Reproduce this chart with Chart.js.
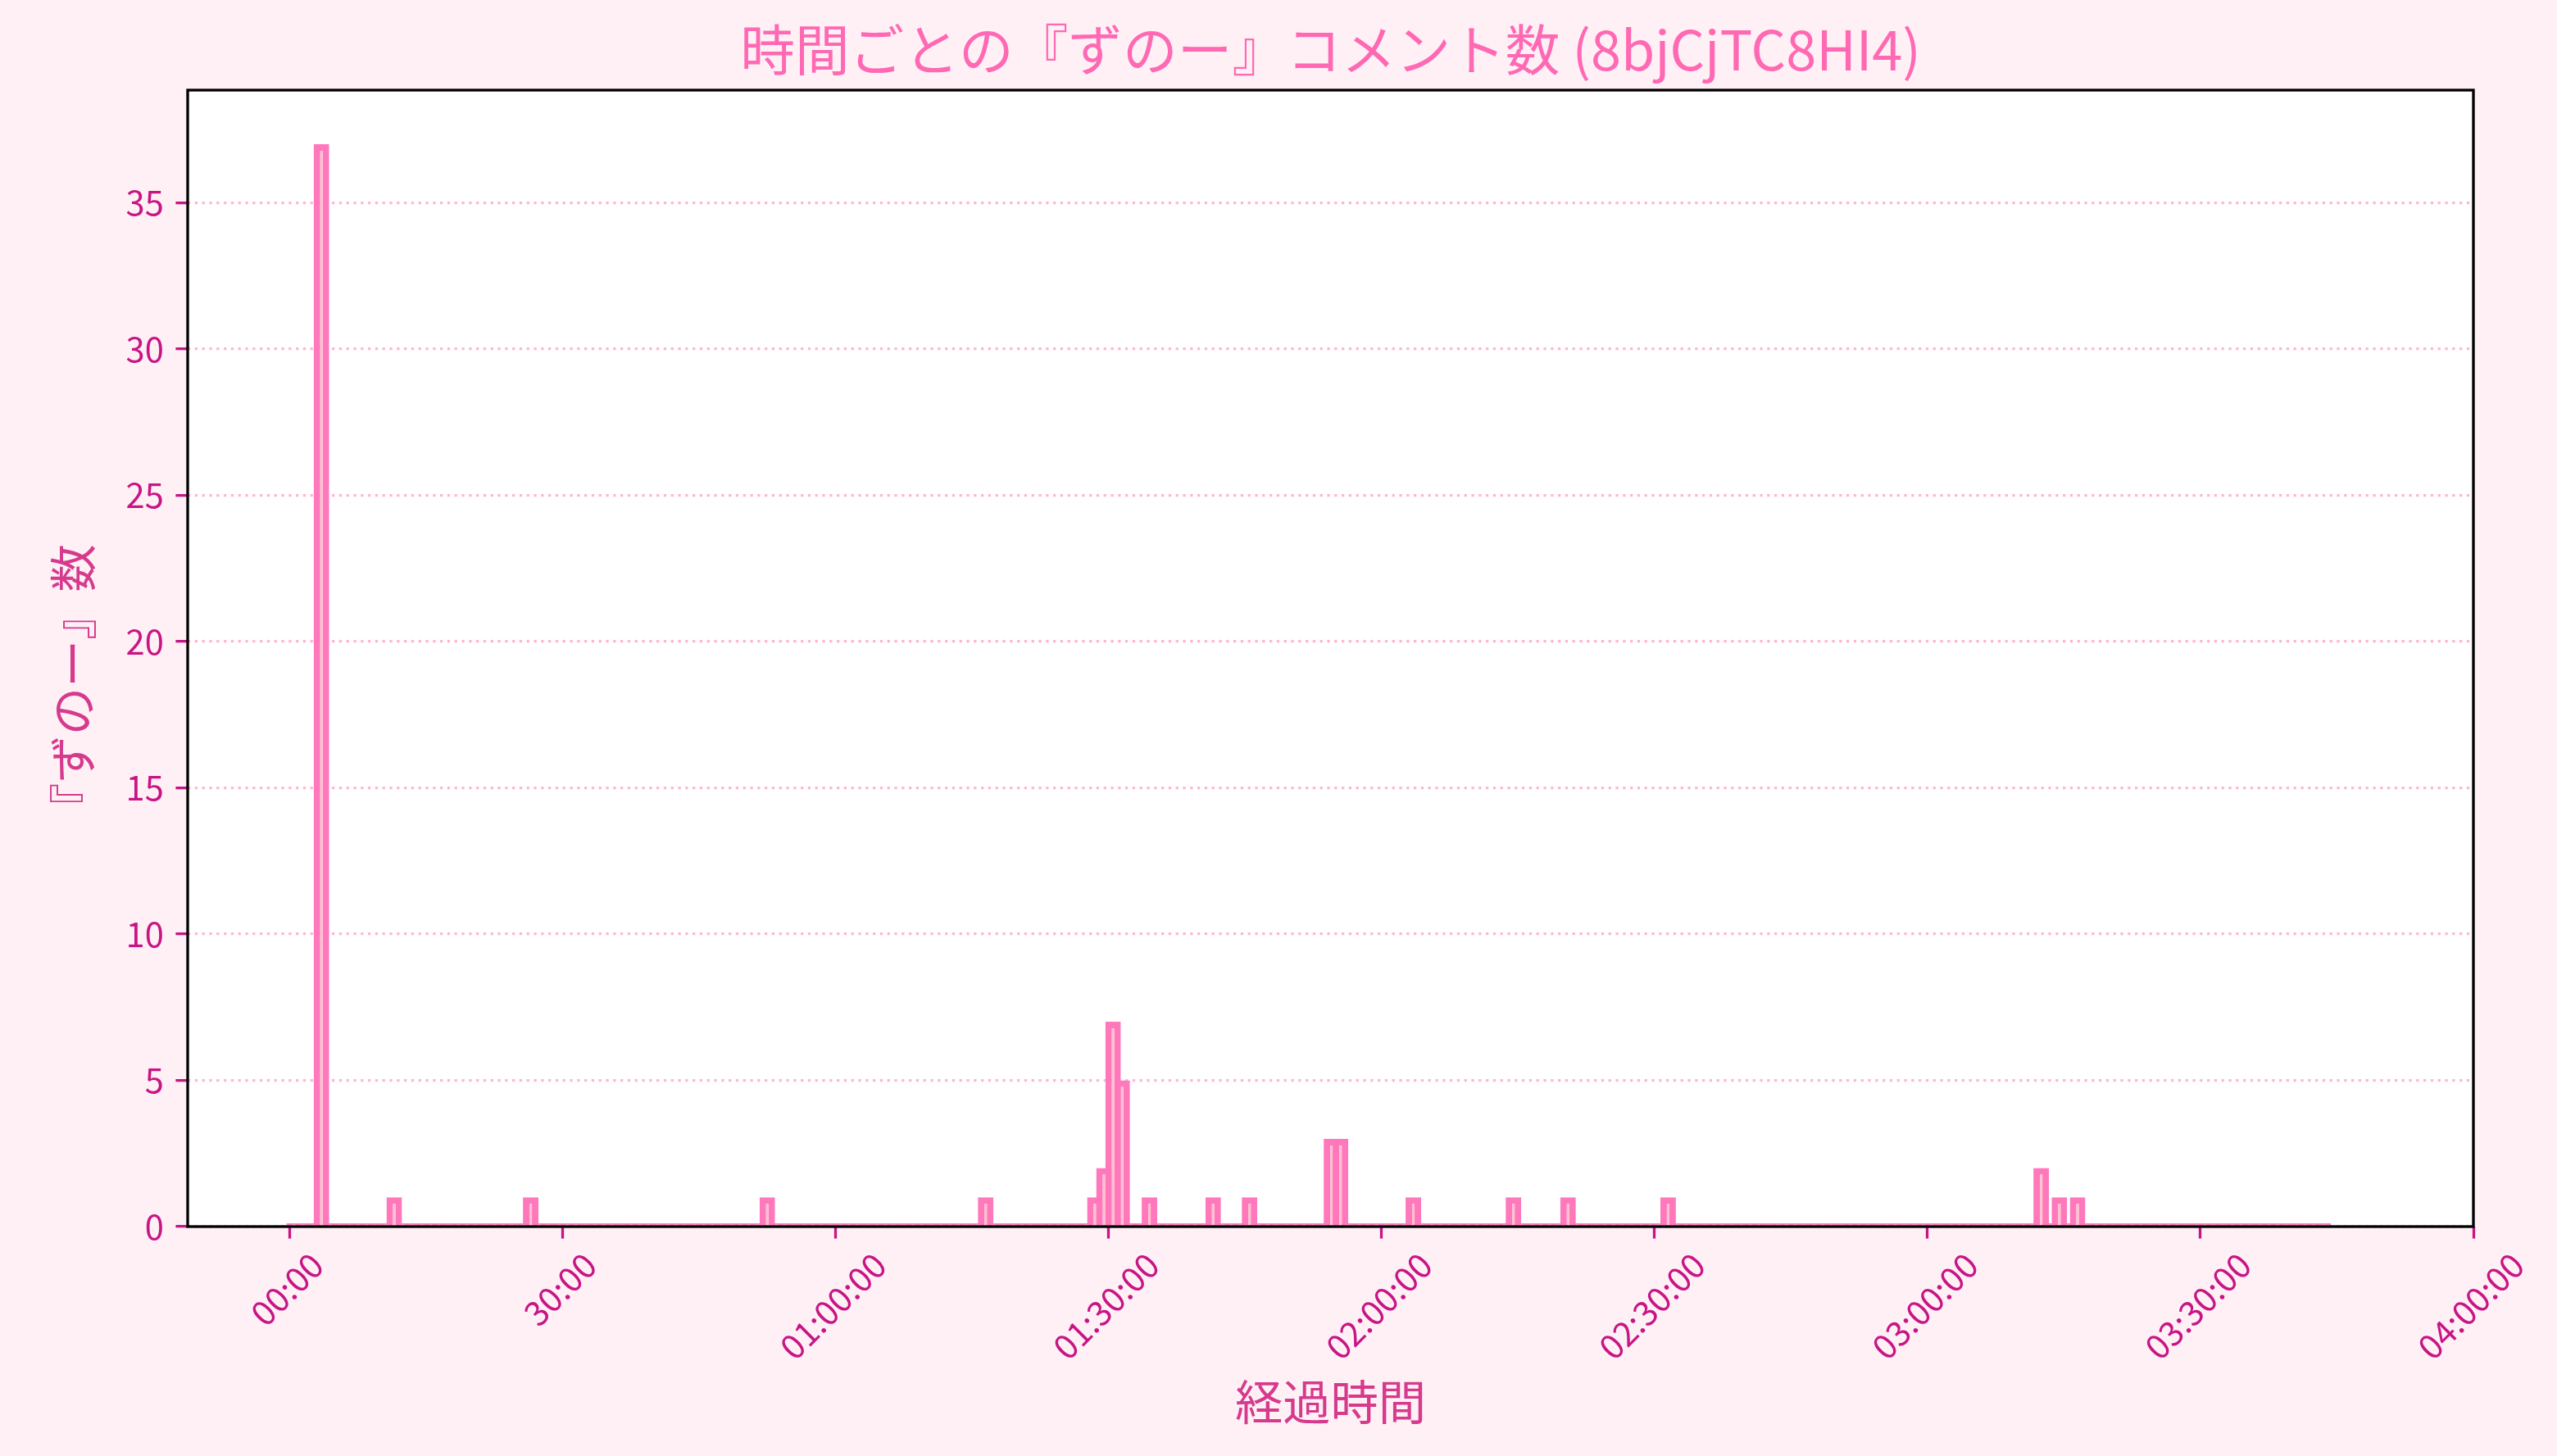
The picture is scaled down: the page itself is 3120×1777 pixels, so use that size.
<!DOCTYPE html>
<html>
<head>
<meta charset="utf-8">
<title>時間ごとの『ずのー』コメント数</title>
<script src="https://cdn.jsdelivr.net/npm/chart.js@4.4.1/dist/chart.umd.min.js"></script>
<style>
  html, body { margin: 0; padding: 0; background: #fff0f5; }
</style>
</head>
<body>
<canvas id="chart" width="3120" height="1777"></canvas>
<script>
// one-minute bins from 00:00 up to the end of the stream
var binCount = 224;
var binWidth = 1;
// minutes that had at least one comment, and how many
var commentMinutes = [3, 11, 26, 52, 76, 88, 89, 90, 91, 94, 101, 105, 114, 115, 123, 134, 140, 151, 192, 194, 196];
var commentCounts = [37, 1, 1, 1, 1, 1, 2, 7, 5, 1, 1, 1, 3, 3, 1, 1, 1, 1, 2, 1, 1];

var xTickMinutes = [0, 30, 60, 90, 120, 150, 180, 210, 240];
var xTickLabels = ["00:00", "30:00", "01:00:00", "01:30:00", "02:00:00", "02:30:00", "03:00:00", "03:30:00", "04:00:00"];
var yTicks = [0, 5, 10, 15, 20, 25, 30, 35];

var titleText = "時間ごとの『ずのー』コメント数 (8bjCjTC8HI4)";
var xLabelText = "経過時間";
var yLabelText = "『ずのー』数";

var FONT = '"Noto Sans CJK JP", "Noto Sans", sans-serif';
var EDGE = '#ff78bb';
var FILL = '#ffc0d0';

var counts = [];
for (var m = 0; m < binCount; m++) counts.push(0);
commentMinutes.forEach(function(minute, i) {
  counts[minute] = commentCounts[i];
});
var points = counts.map(function(c, i) {
  return { x: i * binWidth + binWidth / 2, y: c };
});

var decor = {
  id: 'decor',
  beforeDraw: function(chart) {
    var ctx = chart.ctx, a = chart.chartArea;
    ctx.save();
    ctx.fillStyle = '#fff0f5';
    ctx.fillRect(0, 0, chart.width, chart.height);
    ctx.fillStyle = '#ffffff';
    ctx.fillRect(a.left, a.top, a.right - a.left, a.bottom - a.top);
    ctx.restore();
  },
  afterDatasetsDraw: function(chart) {
    var ctx = chart.ctx, a = chart.chartArea;
    ctx.save();
    ctx.strokeStyle = '#000000';
    ctx.lineWidth = 3.33;
    ctx.strokeRect(a.left, a.top, a.right - a.left, a.bottom - a.top);
    ctx.restore();
  },
  afterDraw: function(chart) {
    var ctx = chart.ctx, a = chart.chartArea;
    var xs = chart.scales.x;
    var midX = (a.left + a.right) / 2;
    ctx.save();

    // title
    ctx.fillStyle = '#ff69b4';
    ctx.font = '66.7px ' + FONT;
    ctx.textAlign = 'center';
    ctx.textBaseline = 'alphabetic';
    ctx.fillText(titleText, midX, 86);

    // rotated x tick labels, centred under each tick like matplotlib
    var fs = 41.7;
    ctx.font = fs + 'px ' + FONT;
    ctx.fillStyle = '#c71585';
    var topY = a.bottom + 14.6 + 14.6;
    xTickMinutes.forEach(function(v, i) {
      var px = xs.getPixelForValue(v);
      var w = ctx.measureText(xTickLabels[i]).width;
      var side = (w + fs * 0.93) * Math.SQRT1_2;
      ctx.save();
      ctx.translate(px, topY + side / 2);
      ctx.rotate(-Math.PI / 4);
      ctx.textAlign = 'center';
      ctx.fillText(xTickLabels[i], 0, fs * 0.265);
      ctx.restore();
    });

    // axis labels
    ctx.fillStyle = '#d63a8c';
    ctx.font = '58.3px ' + FONT;
    ctx.textAlign = 'center';
    ctx.fillText(xLabelText, midX, 1733);

    ctx.save();
    ctx.translate(111, 839);
    ctx.rotate(-Math.PI / 2);
    ctx.fillText(yLabelText, 0, 0);
    ctx.restore();

    ctx.restore();
  }
};

new Chart(document.getElementById('chart'), {
  type: 'bar',
  data: {
    datasets: [{
      data: points,
      borderColor: EDGE,
      backgroundColor: function(c) {
        return c.raw && c.raw.y === 0 ? EDGE : FILL;
      },
      borderWidth: 8,
      borderSkipped: 'start',
      barThickness: 19,
      minBarLength: 4,
      inflateAmount: 0,
      grouped: false
    }]
  },
  options: {
    responsive: false,
    animation: false,
    devicePixelRatio: 1,
    layout: { padding: { top: 110, right: 102, left: 0, bottom: 0 } },
    plugins: {
      legend: { display: false },
      title: { display: false },
      tooltip: { enabled: false }
    },
    scales: {
      x: {
        type: 'linear',
        min: -11.2,
        max: 240,
        offset: false,
        afterBuildTicks: function(s) {
          s.ticks = xTickMinutes.map(function(v) { return { value: v }; });
        },
        afterFit: function(s) { s.height = 280; },
        ticks: { display: false },
        grid: {
          display: true,
          offset: false,
          drawOnChartArea: false,
          drawTicks: true,
          tickLength: 14.6,
          tickWidth: 3.3,
          tickColor: '#c71585'
        },
        border: { display: false }
      },
      y: {
        min: 0,
        max: 38.85,
        afterBuildTicks: function(s) {
          s.ticks = yTicks.map(function(v) { return { value: v }; });
        },
        afterFit: function(s) { s.width = 229; },
        ticks: {
          color: '#c71585',
          font: { family: FONT, size: 41.7 },
          padding: 14.6
        },
        grid: {
          color: '#ffb6d5',
          lineWidth: 3.3,
          drawTicks: true,
          tickLength: 14.6,
          tickWidth: 3.3,
          tickColor: '#c71585'
        },
        border: { display: false, dash: [3.3, 5.5] }
      }
    }
  },
  plugins: [decor]
});
</script>
</body>
</html>
